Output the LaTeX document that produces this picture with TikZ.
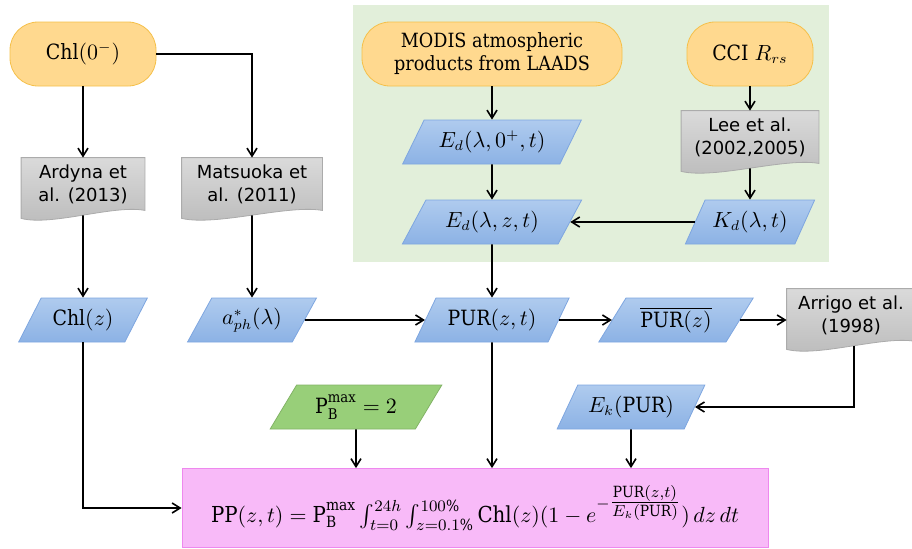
\documentclass[tikz,border=0pt]{standalone}
\usepackage{amsmath}
\usepackage{fontspec}
\setmainfont{DejaVu Serif Condensed}
\newfontfamily\docfont{DejaVu Sans}
\usetikzlibrary{shapes.geometric,arrows.meta,backgrounds,calc}

\definecolor{termfill}{HTML}{FFD98F}
\definecolor{termline}{HTML}{F5C04A}
\definecolor{datatop}{HTML}{AFCBEE}
\definecolor{databot}{HTML}{8CB2E5}
\definecolor{dataline}{HTML}{7EA6E0}
\definecolor{doctop}{HTML}{DADADA}
\definecolor{docbot}{HTML}{BBBBBB}
\definecolor{docline}{HTML}{ABABAB}
\definecolor{constfill}{HTML}{98CF79}
\definecolor{constline}{HTML}{82B366}
\definecolor{ppfill}{HTML}{F8BAF8}
\definecolor{ppline}{HTML}{EE88EE}
\definecolor{satbg}{HTML}{E2EFDA}

\newcommand{\docshape}[1]{%
 \path[docpaint] (#1.north west) -- (#1.north east) -- (#1.south east)
  .. controls ($(#1.south east)!.5!(#1.south)+(0,-6)$)
  and ($(#1.south west)!.5!(#1.south)+(0,16)$) .. ($(#1.south west)+(0,8)$)
  -- cycle;}

\begin{document}
\begin{tikzpicture}[x=0.5pt,y=-0.5pt,font=\fontsize{9}{11.5}\selectfont,
 term/.style={draw=termline,fill=termfill,rounded corners=14pt,
  minimum height=32pt,align=center,inner sep=2pt},
 data/.style={trapezium,trapezium left angle=56,trapezium right angle=124,
  trapezium stretches,draw=dataline,top color=datatop,bottom color=databot,
  minimum height=22pt,inner sep=1pt,font=\fontsize{10.5}{12}\selectfont},
 const/.style={data,draw=constline,top color=constfill,bottom color=constfill},
 doc/.style={minimum height=26pt,align=center,inner sep=1pt,
  font=\docfont\fontsize{9}{11.5}\selectfont},
 docpaint/.style={draw=docline,top color=doctop,bottom color=docbot},
 arr/.style={-{Straight Barb[length=4pt,width=5pt]},line width=0.8pt}]
 \clip (0,0) rectangle (912,548);

 \node[term,minimum width=73pt,font=\fontsize{10.5}{12}\selectfont]
  (chlzero) at (83,54) {Chl$(0^-)$};
 \node[term,minimum width=130pt,font=\fontsize{9.8}{11.5}\selectfont]
  (modis) at (492,54) {MODIS atmospheric\\products from LAADS};
 \node[term,minimum width=63pt,font=\fontsize{10.5}{12}\selectfont]
  (cci) at (750,54) {CCI $R_{rs}$};

 \node[doc,minimum width=61.5pt] (ardyna) at (83,184) {Ardyna et\\al. (2013)};
 \node[doc,minimum width=70pt] (matsuoka) at (252,184) {Matsuoka et\\al. (2011)};
 \node[doc,minimum width=68.5pt] (lee) at (750,137) {Lee et al.\\(2002,2005)};
 \node[doc,minimum width=64pt] (arrigo) at (851,315) {Arrigo et al.\\(1998)};

 \node[data,minimum width=90pt] (edzero) at (492,142) {$E_d(\lambda,0^+,t)$};
 \node[data,minimum width=90pt] (edz) at (492,222) {$E_d(\lambda,z,t)$};
 \node[data,minimum width=65pt] (kd) at (750,222) {$K_d(\lambda,t)$};
 \node[data,minimum width=64.5pt] (chlz) at (83,320) {$\mathrm{Chl}(z)$};
 \node[data,minimum width=64.5pt] (aph) at (252,320) {$a^*_{ph}(\lambda)$};
 \node[data,minimum width=77.5pt] (pur) at (492,320) {$\mathrm{PUR}(z,t)$};
 \node[data,minimum width=77.5pt] (purmean) at (676,320)
  {$\overline{\mathrm{PUR}(z)}$};
 \node[const,minimum width=86pt] (pbmax) at (356,407)
  {$\mathrm{P}_\mathrm{B}^{\max}=2$};
 \node[data,minimum width=74pt] (ek) at (631,407) {$E_k(\mathrm{PUR})$};

 \node[draw=ppline,fill=ppfill,minimum width=293pt,minimum height=39.5pt,
  font=\fontsize{11}{13}\selectfont] (pp) at (475,508)
  {$\mathrm{PP}(z,t)=\mathrm{P}_\mathrm{B}^{\max}\int_{t=0}^{24h}
   \int_{z=0.1\%}^{100\%}\mathrm{Chl}(z)(1-e^{-\genfrac{}{}{}{1}
   {\mathrm{PUR}(z,t)}{E_k(\mathrm{PUR})}})\,dz\,dt$};

 \begin{pgfonlayer}{background}
  \fill[satbg] (353,5) rectangle (829,262);
  \docshape{ardyna}
  \docshape{matsuoka}
  \docshape{lee}
  \docshape{arrigo}
 \end{pgfonlayer}

 \draw[arr] (chlzero) -- (ardyna);
 \draw[arr] (chlzero.east) -| (matsuoka.north);
 \draw[arr] (modis) -- (edzero);
 \draw[arr] (edzero) -- (edz);
 \draw[arr] (cci) -- (lee);
 \draw[arr] ($(lee.south)+(0,5)$) -- (kd);
 \draw[arr] (kd) -- (edz);
 \draw[arr] (edz) -- (pur);
 \draw[arr] ($(ardyna.south)+(0,5)$) -- (chlz);
 \draw[arr] ($(matsuoka.south)+(0,5)$) -- (aph);
 \draw[arr] (aph) -- (pur);
 \draw[arr] (pur) -- (purmean);
 \draw[arr] (purmean) -- (purmean -| arrigo.west);
 \draw[arr] ($(arrigo.south)+(3,5)$) |- (ek);
 \draw[arr] (chlz.south) |- (pp.west);
 \draw[arr] (pbmax) -- (pbmax |- pp.north);
 \draw[arr] (pur) -- (pur |- pp.north);
 \draw[arr] (ek) -- (ek |- pp.north);
\end{tikzpicture}
\end{document}
